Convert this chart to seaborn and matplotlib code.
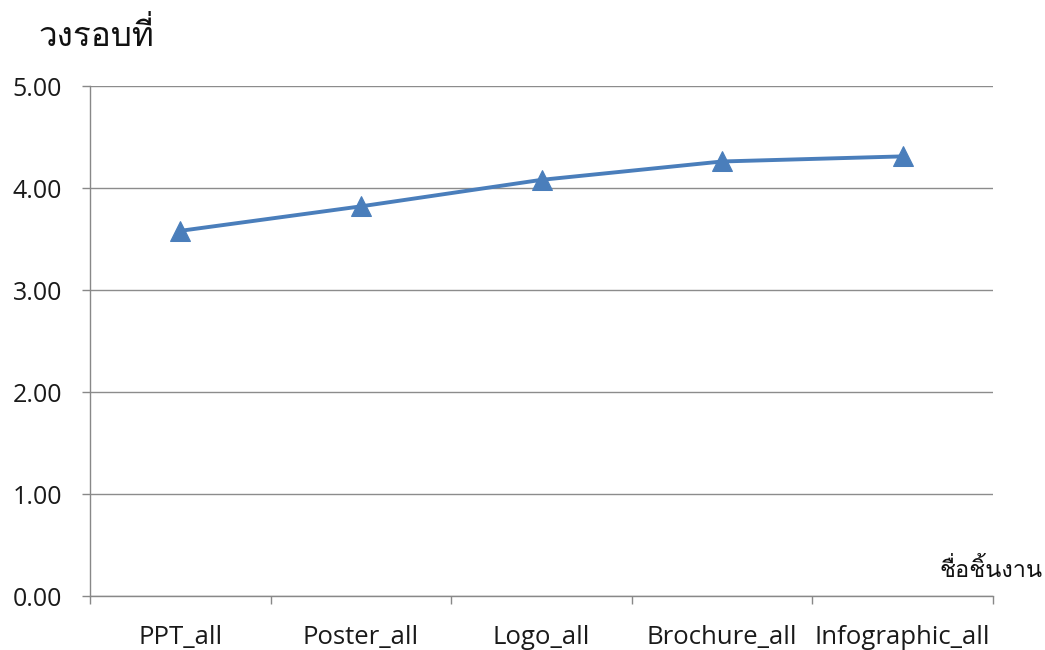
import matplotlib
matplotlib.use("Agg")
import matplotlib.pyplot as plt
import seaborn as sns
import pandas as pd
import numpy as np
from matplotlib import font_manager

categories = ["PPT_all", "Poster_all", "Logo_all", "Brochure_all", "Infographic_all"]
values = [3.58, 3.82, 4.08, 4.26, 4.31]
y_ticks = [0.0, 1.0, 2.0, 3.0, 4.0, 5.0]
y_title = "วงรอบที่"
x_title = "ชื่อชิ้นงาน"

# find a font with Thai glyphs if one is installed
thai_font = None
try:
    from fontTools.ttLib import TTFont
    for fe in font_manager.fontManager.ttflist:
        try:
            f = TTFont(fe.fname, fontNumber=0, lazy=True)
            cmap = f.getBestCmap()
            if cmap and 0x0E27 in cmap and 0x0E07 in cmap:
                thai_font = fe.name
                break
        except Exception:
            continue
except Exception:
    pass

sns.set_theme(style="white")
plt.rcParams['font.family'] = ['Open Sans', 'DejaVu Sans']
thai_family = [thai_font, 'DejaVu Sans'] if thai_font else ['DejaVu Sans']

df = pd.DataFrame({"cat": categories, "val": values})
df["pos"] = np.arange(len(categories))

fig = plt.figure(figsize=(10.45, 6.5), dpi=100)
ax = fig.add_axes([90/1045, 1-596/650, (993-90)/1045, (596-86)/650])

sns.lineplot(data=df, x="pos", y="val", ax=ax, color="#4A7EBB", linewidth=2.8,
             marker="^", markersize=15, markeredgecolor="#4A7EBB", markerfacecolor="#4A7EBB")

ax.set_xlim(-0.5, len(categories) - 0.5)
ax.set_ylim(0, 5)
ax.set_yticks(y_ticks)
ax.set_yticklabels([f"{v:.2f}" for v in y_ticks], fontsize=18, color="#1a1a1a")
ax.set_xticks(np.arange(-0.5, len(categories)))
ax.set_xticklabels([])
ax.set_xticks(np.arange(len(categories)), minor=True)
ax.set_xticklabels(categories, minor=True, fontsize=18.5, color="#1a1a1a")
ax.tick_params(axis="x", which="major", length=6, width=1, color="#888888", direction="out", bottom=True)
ax.tick_params(axis="x", which="minor", length=0, pad=21)
ax.tick_params(axis="y", length=6, width=1, color="#888888", direction="out", left=True, pad=14)
ax.grid(axis="y", color="#8c8c8c", linewidth=1)
ax.set_axisbelow(True)
for side in ["top", "right"]:
    ax.spines[side].set_visible(False)
for side in ["left", "bottom"]:
    ax.spines[side].set_color("#888888")
    ax.spines[side].set_linewidth(1)
ax.set_xlabel("")
ax.set_ylabel("")

fig.text(38/1045, 1-36/650, y_title, family=thai_family, fontsize=24, va="center", ha="left", color="#111111")
fig.text(1043/1045, 1-570/650, x_title, family=thai_family, fontsize=17, va="center", ha="right", color="#111111")

fig.savefig("out.png", dpi=100)
